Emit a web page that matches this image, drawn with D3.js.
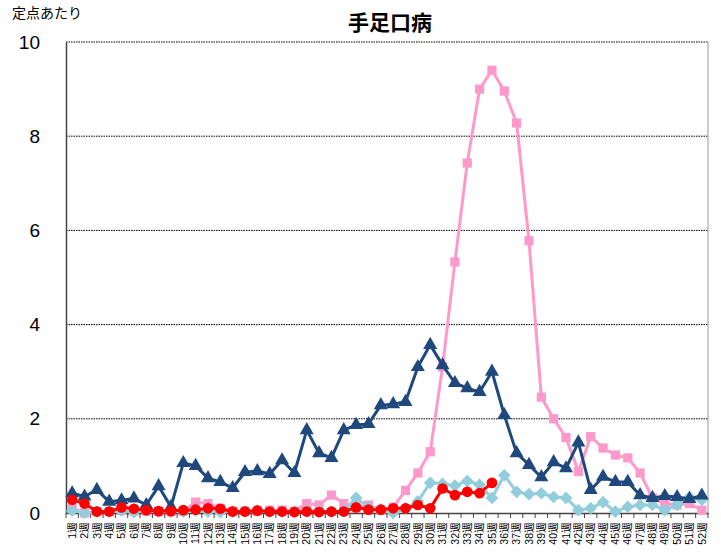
<!DOCTYPE html>
<html>
<head>
<meta charset="utf-8">
<script src="https://d3js.org/d3.v7.min.js"></script>
<style>
* { padding: 0; margin: 0; }
body { background: #fff; }
svg { display: block; font-family: "Noto Sans CJK JP", "DejaVu Sans", sans-serif; }
.grid line { stroke: #000; stroke-dasharray: 1.5 1; stroke-width: 1; }
</style>
</head>
<body>
<svg width="721" height="555"></svg>
<script>
// weeks 1..52
const weeks = d3.range(1, 53).map(d => d + "週")
const yTicks = [0, 2, 4, 6, 8, 10]

// pink (squares)
const seriesPink = [0.10, 0.00, 0.03, 0.03, 0.05, 0.04, 0.04, 0.03, 0.03, 0.04,
  0.23, 0.20, 0.10, 0.04, 0.04, 0.04, 0.06, 0.06, 0.04, 0.20,
  0.17, 0.38, 0.20, 0.10, 0.17, 0.06, 0.12, 0.48, 0.85, 1.30,
  3.10, 5.33, 7.43, 9.00, 9.40, 8.96, 8.28, 5.78, 2.46, 2.00,
  1.60, 0.88, 1.62, 1.38, 1.23, 1.17, 0.85, 0.32, 0.20, 0.17,
  0.20, 0.06]

// light blue (diamonds)
const seriesBlue = [0.05, 0.00, 0.03, 0.03, 0.05, 0.02, 0.05, 0.03, 0.03, 0.03,
  0.05, 0.03, 0.02, 0.03, 0.03, 0.05, 0.03, 0.03, 0.03, 0.05,
  0.05, 0.02, 0.05, 0.32, 0.12, 0.08, 0.00, 0.10, 0.25, 0.64,
  0.62, 0.58, 0.68, 0.60, 0.32, 0.80, 0.45, 0.40, 0.42, 0.34,
  0.32, 0.06, 0.10, 0.23, 0.03, 0.13, 0.17, 0.17, 0.06, 0.17,
  0.34, 0.28]

// navy (triangles)
const seriesNavy = [0.42, 0.35, 0.49, 0.24, 0.27, 0.31, 0.17, 0.57, 0.13, 1.06,
  1.00, 0.74, 0.66, 0.53, 0.87, 0.89, 0.83, 1.12, 0.85, 1.76,
  1.27, 1.17, 1.76, 1.87, 1.89, 2.29, 2.31, 2.36, 3.10, 3.57,
  3.14, 2.76, 2.65, 2.57, 3.00, 2.08, 1.27, 1.02, 0.76, 1.08,
  0.95, 1.50, 0.49, 0.77, 0.66, 0.66, 0.38, 0.32, 0.36, 0.34,
  0.30, 0.37]

// red (circles), current year up to week 35
const seriesRed = [0.28, 0.20, 0.03, 0.03, 0.12, 0.09, 0.06, 0.04, 0.04, 0.06,
  0.07, 0.10, 0.09, 0.03, 0.03, 0.05, 0.03, 0.03, 0.02, 0.03,
  0.02, 0.03, 0.03, 0.12, 0.07, 0.07, 0.10, 0.10, 0.17, 0.10,
  0.52, 0.38, 0.45, 0.42, 0.64]

const svg = d3.select("svg")
const plotL = 66, plotR = 708, plotT = 42, plotB = 513

const x = d3.scaleBand().domain(weeks).range([plotL, plotR])
const y = d3.scaleLinear().domain([0, 10]).range([plotB, plotT])
const cx = (d, i) => x(weeks[i]) + x.bandwidth() / 2

// gridlines
svg.append("g").attr("class", "grid")
  .selectAll("line").data(yTicks.filter(d => d > 0)).join("line")
  .attr("x1", plotL).attr("x2", plotR)
  .attr("y1", d => y(d)).attr("y2", d => y(d))

// right border
svg.append("line").attr("x1", plotR).attr("x2", plotR)
  .attr("y1", plotT).attr("y2", plotB).attr("stroke", "#999").attr("stroke-width", 1)

// y axis
const yAxis = svg.append("g").attr("transform", `translate(${plotL},0)`)
  .call(d3.axisLeft(y).tickValues(yTicks).tickSize(0).tickPadding(26))
yAxis.select(".domain").attr("stroke", "#444").attr("stroke-width", 1.5)
yAxis.selectAll("text").attr("font-size", 19).attr("fill", "#000")
  .attr("font-family", "Liberation Sans, Arial, sans-serif")

// x axis
const xAxis = svg.append("g").attr("transform", `translate(0,${plotB})`)
  .call(d3.axisBottom(x).tickSize(0).tickPadding(0))
xAxis.select(".domain").attr("stroke", "#444").attr("stroke-width", 1.5)
xAxis.selectAll("text")
  .attr("font-size", 10.5).attr("fill", "#000")
  .attr("text-anchor", "end")
  .attr("transform", "rotate(-90)")
  .attr("x", -9).attr("y", 0).attr("dy", "0.35em")

// tick marks between categories
svg.append("g").selectAll("line").data(d3.range(0, weeks.length + 1)).join("line")
  .attr("x1", i => plotL + i * x.step()).attr("x2", i => plotL + i * x.step())
  .attr("y1", plotB).attr("y2", plotB + 5)
  .attr("stroke", "#444").attr("stroke-width", 1)

const line = d3.line().x(cx).y(d => y(d))

function drawSeries(data, color, shape, size, rot) {
  const g = svg.append("g")
  g.append("path").datum(data)
    .attr("d", line).attr("fill", "none")
    .attr("stroke", color).attr("stroke-width", 3).attr("stroke-linejoin", "round")
  g.selectAll("path.m").data(data).join("path").attr("class", "m")
    .attr("d", d3.symbol().type(shape).size(size))
    .attr("transform", (d, i) => `translate(${cx(d, i)},${y(d)}) rotate(${rot || 0})`)
    .attr("fill", color)
}

drawSeries(seriesPink, "#ff99cc", d3.symbolSquare, 85)
drawSeries(seriesBlue, "#92cddc", d3.symbolSquare, 80, 45)
drawSeries(seriesNavy, "#1f497d", d3.symbolTriangle, 85)
drawSeries(seriesRed, "#ff0000", d3.symbolCircle, 90)

// titles
svg.append("text").attr("x", 390).attr("y", 30)
  .attr("text-anchor", "middle").attr("font-size", 21).attr("font-weight", "bold")
  .text("手足口病")
svg.append("text").attr("x", 12).attr("y", 18)
  .attr("font-size", 14).text("定点あたり")
</script>
</body>
</html>
